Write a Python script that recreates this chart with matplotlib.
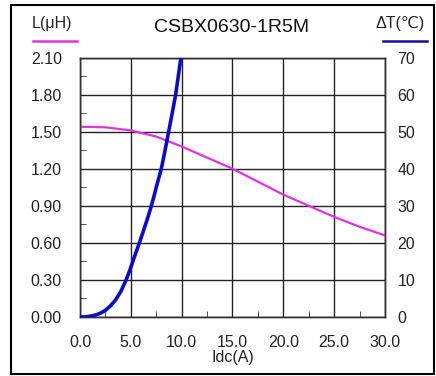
import numpy as np
import matplotlib
matplotlib.use('Agg')
import matplotlib.pyplot as plt
from matplotlib.patches import Rectangle
from matplotlib.lines import Line2D

plt.rcParams['font.family'] = ['Liberation Sans', 'DejaVu Sans']

# inductance vs current
idc_l = [0, 2.5, 5, 7.5, 10, 12.5, 15, 17.5, 20, 22.5, 25, 27.5, 30]
ind = [1.54, 1.535, 1.51, 1.46, 1.38, 1.29, 1.20, 1.095, 0.99, 0.90, 0.81, 0.73, 0.66]

# temperature rise vs current
idc_t = [0, 0.5, 1.0, 1.5, 2.0, 2.5, 3.0, 3.5, 4.0, 4.54, 4.9, 5.2, 5.5, 5.84, 6.15,
         6.45, 6.75, 7.02, 7.27, 7.5, 7.75, 8.0, 8.37, 8.72, 9.07, 9.41, 9.67, 9.93, 10.0]
temp = [0, 0.02, 0.2, 0.5, 1.0, 1.8, 3.0, 4.6, 6.8, 10, 12.6, 15, 17.4, 20, 22.5,
        25, 27.5, 30, 32.5, 35, 37.5, 40, 45, 50, 55, 60, 65, 70, 71]

x_ticks = [0, 5, 10, 15, 20, 25, 30]
l_ticks = [0, 0.3, 0.6, 0.9, 1.2, 1.5, 1.8, 2.1]
t_ticks = [0, 10, 20, 30, 40, 50, 60, 70]

fig = plt.figure(figsize=(4.36, 3.76), dpi=100)
ax = fig.add_axes([0.1835, 0.157, 0.6995, 0.690])
ax2 = ax.twinx()

ax.plot(idc_l, ind, color='#e033e0', lw=1.6, zorder=3)
ax2.plot(idc_t, temp, color='#0a0ad0', lw=2.6, zorder=4, clip_on=True)

ax.set_xlim(0, 30)
ax.set_ylim(0, 2.1)
ax2.set_ylim(0, 70)
ax.set_xticks(x_ticks)
ax.set_xticklabels(['%.1f' % v for v in x_ticks])
ax.set_yticks(l_ticks)
ax.set_yticklabels(['%.2f' % v for v in l_ticks])
ax2.set_yticks(t_ticks)
ax2.set_yticklabels([str(v) for v in t_ticks])
ax.set_xticks(np.arange(2.5, 30, 5), minor=True)
ax.set_yticks(np.arange(0.15, 2.1, 0.3), minor=True)

ax.grid(True, which='major', color='#222222', lw=1.0)
ax.tick_params(axis='y', which='major', length=0, labelsize=11.5, pad=13, colors='#222222')
ax.tick_params(axis='x', which='major', length=0, labelsize=11.5, pad=13, colors='#222222')
ax.tick_params(which='minor', direction='in', length=4, color='#333333')
ax2.tick_params(which='major', length=0, labelsize=11.5, pad=9, colors='#222222')
for a in (ax, ax2):
    for s in a.spines.values():
        s.set_color('#333333')
        s.set_linewidth(1.0)

ax.set_xlabel('Idc(A)', fontsize=11.5, labelpad=0, color='#222222')

fig.text(0.532, 0.926, 'CSBX0630-1R5M', ha='center', va='center', fontsize=14, color='#111111')
fig.text(0.12, 0.937, 'L(μH)', ha='center', va='center', fontsize=11.5, color='#222222')
fig.text(0.918, 0.937, 'ΔT(℃)', ha='center', va='center', fontsize=11.5, color='#222222')
fig.add_artist(Line2D([0.076, 0.177], [0.891, 0.891], color='#e033e0', lw=1.8))
fig.add_artist(Line2D([0.879, 0.979], [0.891, 0.891], color='#1010a0', lw=1.8))
fig.add_artist(Rectangle((0.025, 0.005), 0.97, 0.982, fill=False, ec='black', lw=1.5))

fig.savefig('out.png', dpi=100)
